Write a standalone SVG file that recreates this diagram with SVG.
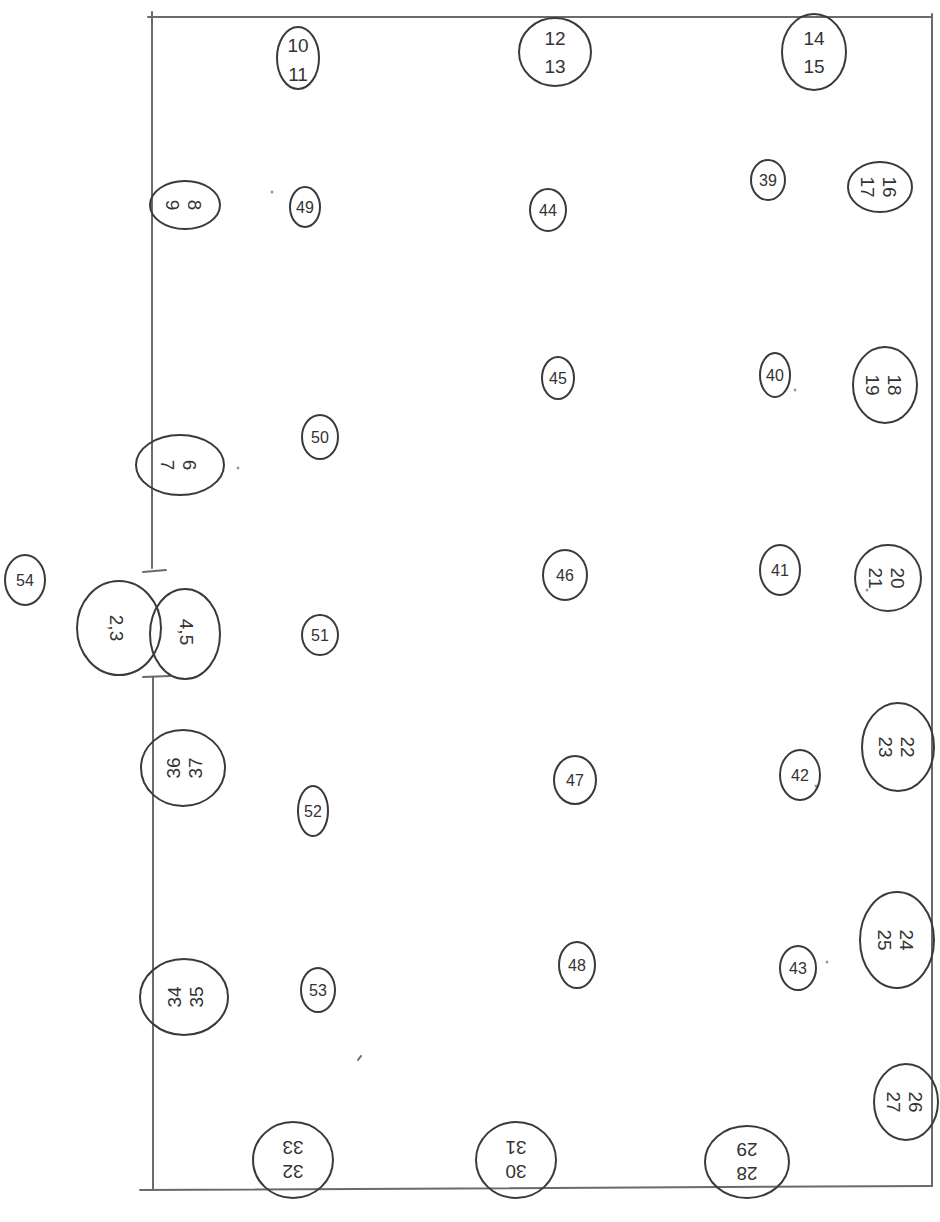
<svg xmlns="http://www.w3.org/2000/svg" width="940" height="1222" viewBox="0 0 940 1222">
<style>
.wall{stroke:#6a6a6a;stroke-width:2;fill:none;stroke-linecap:round}
.ov{stroke:#3a3a3a;stroke-width:2;fill:none}
.t{font-family:"Liberation Sans","DejaVu Sans",sans-serif;fill:#333;text-anchor:middle}
.s{font-size:16px}
.d{font-size:19px}
.dot{fill:#999}
</style>
<rect width="940" height="1222" fill="#ffffff"/>
<g id="walls">
<path class="wall" d="M148 17 L932 17"/>
<path class="wall" d="M152 12 L152 568"/>
<path class="wall" d="M143 572 L166 570"/>
<path class="wall" d="M143 677 L170 676"/>
<path class="wall" d="M153 677 L153 1190"/>
<path class="wall" d="M932 14 L932 1186"/>
<path class="wall" d="M140 1190 L932 1186"/>
</g>
<g id="marks">
<circle class="dot" cx="272" cy="192" r="1.5"/>
<circle class="dot" cx="238" cy="468" r="1.5"/>
<circle class="dot" cx="795" cy="390" r="1.5"/>
<circle class="dot" cx="867" cy="590" r="1.5"/>
<circle class="dot" cx="816" cy="786" r="1.5"/>
<circle class="dot" cx="827" cy="962" r="1.5"/>
<path class="wall" d="M358 1060 L361 1056"/>
</g>
<g id="n10"><ellipse class="ov" cx="298" cy="58" rx="21" ry="31"/><text class="t d" x="298" y="52">10</text><text class="t d" x="298" y="81">11</text></g>
<g id="n12"><ellipse class="ov" cx="555" cy="52" rx="36" ry="34"/><text class="t d" x="555" y="45">12</text><text class="t d" x="555" y="73">13</text></g>
<g id="n14"><ellipse class="ov" cx="814" cy="52" rx="32" ry="38"/><text class="t d" x="814" y="45">14</text><text class="t d" x="814" y="73">15</text></g>
<g id="n8"><ellipse class="ov" cx="185" cy="205" rx="35" ry="24"/><g transform="translate(185 205) rotate(90)"><text class="t d" x="0" y="-3">8</text><text class="t d" x="0" y="19">9</text></g></g>
<g id="n49"><ellipse class="ov" cx="305" cy="207" rx="15" ry="20"/><text class="t s" x="305" y="213">49</text></g>
<g id="n44"><ellipse class="ov" cx="548" cy="210" rx="18" ry="21"/><text class="t s" x="548" y="216">44</text></g>
<g id="n39"><ellipse class="ov" cx="768" cy="180" rx="17" ry="20"/><text class="t s" x="768" y="186">39</text></g>
<g id="n16"><ellipse class="ov" cx="880" cy="187" rx="32" ry="25"/><g transform="translate(880 187) rotate(90)"><text class="t d" x="0" y="-3">16</text><text class="t d" x="0" y="19">17</text></g></g>
<g id="n45"><ellipse class="ov" cx="558" cy="378" rx="16" ry="21"/><text class="t s" x="558" y="384">45</text></g>
<g id="n40"><ellipse class="ov" cx="775" cy="375" rx="15" ry="22"/><text class="t s" x="775" y="381">40</text></g>
<g id="n18"><ellipse class="ov" cx="885" cy="385" rx="32" ry="38"/><g transform="translate(885 385) rotate(90)"><text class="t d" x="0" y="-3">18</text><text class="t d" x="0" y="19">19</text></g></g>
<g id="n50"><ellipse class="ov" cx="320" cy="437" rx="18" ry="22"/><text class="t s" x="320" y="443">50</text></g>
<g id="n6"><ellipse class="ov" cx="180" cy="465" rx="44" ry="30"/><g transform="translate(180 465) rotate(90)"><text class="t d" x="0" y="-3">6</text><text class="t d" x="0" y="19">7</text></g></g>
<g id="n54"><ellipse class="ov" cx="25" cy="580" rx="20" ry="25"/><text class="t s" x="25" y="586">54</text></g>
<g id="n46"><ellipse class="ov" cx="565" cy="575" rx="22" ry="25"/><text class="t s" x="565" y="581">46</text></g>
<g id="n41"><ellipse class="ov" cx="780" cy="570" rx="20" ry="25"/><text class="t s" x="780" y="576">41</text></g>
<g id="n20"><ellipse class="ov" cx="888" cy="578" rx="33" ry="33"/><g transform="translate(888 578) rotate(90)"><text class="t d" x="0" y="-3">20</text><text class="t d" x="0" y="19">21</text></g></g>
<g id="n2"><ellipse class="ov" cx="119" cy="628" rx="42" ry="47"/><g transform="translate(117 628) rotate(90)"><text class="t d" x="0" y="7">2,3</text></g></g>
<g id="n4"><ellipse class="ov" cx="185" cy="634" rx="35" ry="45"/><g transform="translate(187 632) rotate(90)"><text class="t d" x="0" y="7">4,5</text></g></g>
<g id="n51"><ellipse class="ov" cx="320" cy="635" rx="18" ry="20"/><text class="t s" x="320" y="641">51</text></g>
<g id="n36"><ellipse class="ov" cx="183" cy="768" rx="42" ry="38"/><g transform="translate(183 768) rotate(-90)"><text class="t d" x="0" y="-3">36</text><text class="t d" x="0" y="19">37</text></g></g>
<g id="n52"><ellipse class="ov" cx="313" cy="811" rx="15" ry="25"/><text class="t s" x="313" y="817">52</text></g>
<g id="n47"><ellipse class="ov" cx="575" cy="780" rx="21" ry="24"/><text class="t s" x="575" y="786">47</text></g>
<g id="n42"><ellipse class="ov" cx="800" cy="775" rx="20" ry="25"/><text class="t s" x="800" y="781">42</text></g>
<g id="n22"><ellipse class="ov" cx="898" cy="747" rx="36" ry="44"/><g transform="translate(898 747) rotate(90)"><text class="t d" x="0" y="-3">22</text><text class="t d" x="0" y="19">23</text></g></g>
<g id="n34"><ellipse class="ov" cx="184" cy="997" rx="44" ry="38"/><g transform="translate(184 997) rotate(-90)"><text class="t d" x="0" y="-3">34</text><text class="t d" x="0" y="19">35</text></g></g>
<g id="n53"><ellipse class="ov" cx="318" cy="990" rx="17" ry="22"/><text class="t s" x="318" y="996">53</text></g>
<g id="n48"><ellipse class="ov" cx="577" cy="965" rx="18" ry="23"/><text class="t s" x="577" y="971">48</text></g>
<g id="n43"><ellipse class="ov" cx="798" cy="968" rx="18" ry="22"/><text class="t s" x="798" y="974">43</text></g>
<g id="n24"><ellipse class="ov" cx="897" cy="940" rx="37" ry="48"/><g transform="translate(897 940) rotate(90)"><text class="t d" x="0" y="-3">24</text><text class="t d" x="0" y="19">25</text></g></g>
<g id="n26"><ellipse class="ov" cx="906" cy="1102" rx="32" ry="38"/><g transform="translate(906 1102) rotate(90)"><text class="t d" x="0" y="-3">26</text><text class="t d" x="0" y="19">27</text></g></g>
<g id="n32"><ellipse class="ov" cx="293" cy="1160" rx="40" ry="38"/><g transform="translate(293 1160) rotate(180)"><text class="t d" x="0" y="-5">32</text><text class="t d" x="0" y="19">33</text></g></g>
<g id="n30"><ellipse class="ov" cx="516" cy="1160" rx="40" ry="38"/><g transform="translate(516 1160) rotate(180)"><text class="t d" x="0" y="-5">30</text><text class="t d" x="0" y="19">31</text></g></g>
<g id="n28"><ellipse class="ov" cx="747" cy="1162" rx="42" ry="36"/><g transform="translate(747 1162) rotate(180)"><text class="t d" x="0" y="-5">28</text><text class="t d" x="0" y="19">29</text></g></g>
</svg>
